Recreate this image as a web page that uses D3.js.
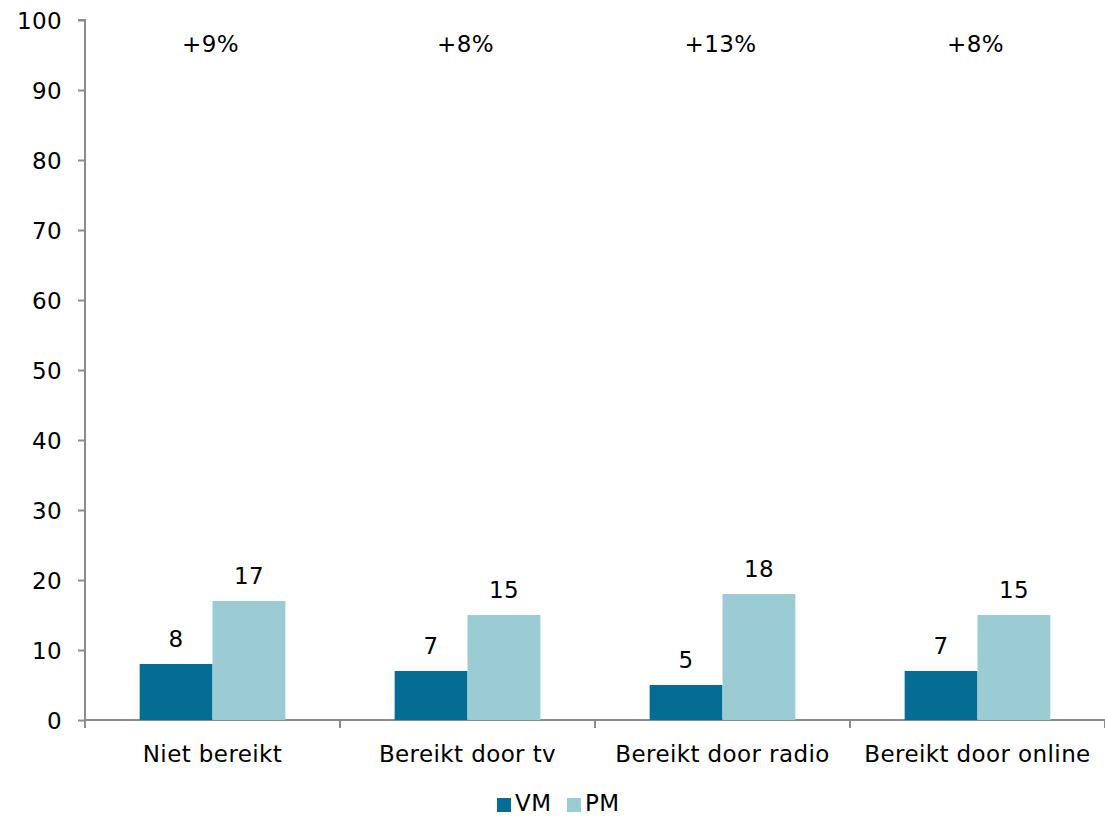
<!DOCTYPE html>
<html><head><meta charset="utf-8">
<script src="https://cdn.jsdelivr.net/npm/d3@7"></script>
<style>body{margin:0;background:#fff}svg{display:block}text{font-family:Verdana,"DejaVu Sans",sans-serif;fill:#000;letter-spacing:0.4px}</style>
</head><body><svg id="c" width="1105" height="817"></svg>
<script>
const categories = ["Niet bereikt","Bereikt door tv","Bereikt door radio","Bereikt door online"];
const vmValues = [8,7,5,7];
const pmValues = [17,15,18,15];
const diffLabels = ["+9%","+8%","+13%","+8%"];
const seriesNames = ["VM","PM"];
const yTicks = [0,10,20,30,40,50,60,70,80,90,100];
const colors = ["#056d93","#9bcbd3"];

(function(){
const svg = d3.select("#c");
const fs = "23px";
const mLeft = 85, mRight = 1105, mTop = 20, mBottom = 720;
const x = d3.scaleBand().domain(categories).range([mLeft,mRight]).paddingInner(0).paddingOuter(0);
const y = d3.scaleLinear().domain([0,100]).range([mBottom,mTop]);
const barW = x.bandwidth()/3.5;
const xs = d3.scaleBand().domain(seriesNames).range([0,2*barW]);

const data = categories.map((c,i)=>({c, vals:[vmValues[i],pmValues[i]], diff:diffLabels[i]}));

// y axis
const ya = svg.append("g").attr("transform",`translate(${mLeft},0)`)
  .call(d3.axisLeft(y).tickValues(yTicks).tickSize(7).tickPadding(16));
ya.selectAll("text").style("font-size",fs).attr("dy","0.35em");
ya.select(".domain").attr("stroke","#8c8c8c").attr("stroke-width",2).attr("d",`M-7,${mTop}H0V${mBottom}`);
ya.selectAll(".tick line").attr("stroke","#8c8c8c").attr("stroke-width",2);

// x axis
const xa = svg.append("g").attr("transform",`translate(0,${mBottom})`);
xa.append("line").attr("x1",mLeft).attr("x2",mRight).attr("stroke","#8c8c8c").attr("stroke-width",2);
const bounds = categories.map(c=>x(c)).concat([mRight]);
xa.selectAll("line.t").data(bounds).enter().append("line").attr("class","t")
  .attr("x1",d=>d).attr("x2",d=>d).attr("y1",0).attr("y2",8).attr("stroke","#8c8c8c").attr("stroke-width",2);
xa.selectAll("text").data(categories).enter().append("text")
  .attr("x",d=>x(d)+x.bandwidth()/2).attr("y",42).attr("text-anchor","middle").style("font-size",fs).text(d=>d);

// bars
const g = svg.selectAll("g.cat").data(data).enter().append("g").attr("class","cat")
  .attr("transform",d=>`translate(${x(d.c)+(x.bandwidth()-2*barW)/2},0)`);
g.selectAll("rect").data(d=>d.vals.map((v,j)=>({v,s:seriesNames[j],j}))).enter().append("rect")
  .attr("x",d=>xs(d.s)).attr("width",xs.bandwidth()).attr("y",d=>y(d.v)).attr("height",d=>y(0)-y(d.v))
  .attr("fill",d=>colors[d.j]);
g.selectAll("text.v").data(d=>d.vals.map((v,j)=>({v,s:seriesNames[j]}))).enter().append("text").attr("class","v")
  .attr("x",d=>xs(d.s)+xs.bandwidth()/2).attr("y",d=>y(d.v)-17).attr("text-anchor","middle").style("font-size",fs).text(d=>d.v);

// diff labels
svg.selectAll("text.d").data(data).enter().append("text").attr("class","d")
  .attr("x",d=>x(d.c)+x.bandwidth()/2-2).attr("y",52).attr("text-anchor","middle").style("font-size",fs).text(d=>d.diff);

// legend
const lg = svg.append("g");
const lx = [497,567];
seriesNames.forEach((s,i)=>{
  lg.append("rect").attr("x",lx[i]).attr("y",798).attr("width",14).attr("height",14).attr("fill",colors[i]);
  lg.append("text").attr("x",lx[i]+18).attr("y",811).style("font-size",fs).text(s);
});
})();
</script></body></html>
